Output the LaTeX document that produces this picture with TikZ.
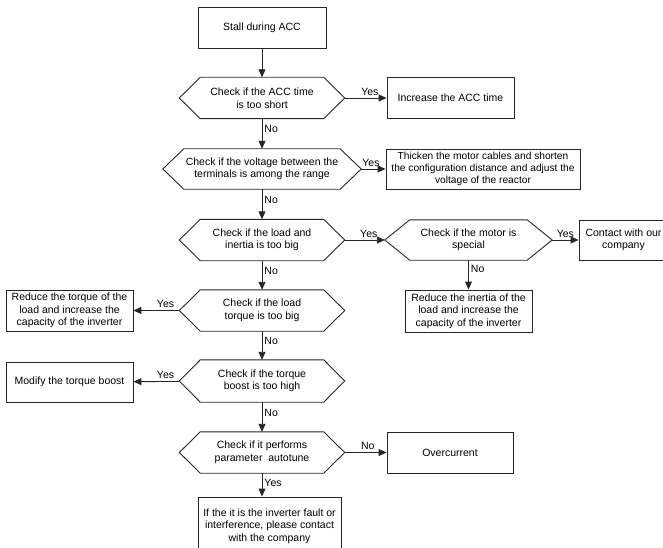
\documentclass[tikz,border=0pt]{standalone}
\usepackage{fontspec}
\setmainfont{Liberation Sans}
\usetikzlibrary{arrows.meta, positioning, calc}

\begin{document}
\begin{tikzpicture}[x=1pt, y=-1pt, >={Triangle[length=8pt, width=7pt]},
    font=\fontsize{10.5}{12.5}\selectfont,
    box/.style={draw=black!85, line width=0.9pt, inner sep=1pt, align=center, minimum height=41pt},
    check/.style={inner sep=1pt, align=center, minimum width=165pt, minimum height=41pt},
    link/.style={->, line width=0.9pt, draw=black!85},
    lbl/.style={inner sep=2pt}]
    % fixed frame of the picture
    \useasboundingbox (0,0) rectangle (663,548);

    % main column
    \node[box, minimum width=128pt] (start) at (262,27.5) {Stall during ACC};
    \node[check] (q1) at (262,98) {Check if the ACC time\\is too short};
    \node[check, minimum width=198pt, minimum height=40pt] (q2) at (262,169) {Check if the voltage between the\\terminals is among the range};
    \node[check] (q3) at (262,240) {Check if the load and\\inertia is too big};
    \node[check] (q5) at (262,310.5) {Check if the load\\torque is too big};
    \node[check, minimum height=42pt] (q6) at (262,381) {Check if the torque\\boost is too high};
    \node[check] (q7) at (262,452.5) {Check if it performs\\parameter\ \ autotune};
    \node[box, minimum width=143pt, minimum height=58pt] (final) at (269.5,526) {If the it is the inverter fault or\\interference, please contact\\with the company};

    % right side
    \node[box, minimum width=127pt] (incr) at (450.5,98) {Increase the ACC time};
    \node[box, minimum width=194pt, minimum height=40pt, font=\fontsize{10.2}{12}\selectfont] (thick) at (483,169) {Thicken the motor cables and shorten\\the configuration distance and adjust the\\voltage of the reactor};
    \node[check, minimum width=167pt, minimum height=40pt] (q4) at (468.5,240) {Check if the motor is\\special};
    \node[box, minimum width=89pt, minimum height=40pt] (contact) at (623.5,240) {Contact with our\\company};
    \node[box, minimum width=127pt, minimum height=42pt] (inertia) at (468.5,311) {Reduce the inertia of the\\load and increase the\\capacity of the inverter};
    \node[box, minimum width=126pt] (over) at (450,452.5) {Overcurrent};

    % left side
    \node[box, minimum width=127pt] (torque) at (69.5,310.5) {Reduce the torque of the\\load and increase the\\capacity of the inverter};
    \node[box, minimum width=127pt, minimum height=40pt] (modify) at (69.5,382) {Modify the torque boost};

    % hexagon outlines of the checks
    \foreach \n/\d in {q1/21, q2/21, q3/21, q4/25, q5/21, q6/21, q7/21}
        \draw[line width=0.9pt, black!85] (\n.west) -- ([xshift=\d]\n.north west) -- ([xshift=-\d]\n.north east)
            -- (\n.east) -- ([xshift=-\d]\n.south east) -- ([xshift=\d]\n.south west) -- cycle;

    % connectors
    \draw[link] (start) -- (q1);
    \draw[link] (q1) -- node[lbl, above, pos=0.6] {Yes} (incr);
    \draw[link] (q1) -- node[lbl, right, pos=0.35] {No} (q2);
    \draw[link] (q2) -- node[lbl, above, pos=0.4] {Yes} (thick);
    \draw[link] (q2) -- node[lbl, right, pos=0.35] {No} (q3);
    \draw[link] (q3) -- node[lbl, above, pos=0.6] {Yes} (q4);
    \draw[link] (q4) -- node[lbl, above, pos=0.5] {Yes} (contact);
    \draw[link] (q4) -- node[lbl, right, pos=0.3] {No} (inertia);
    \draw[link] (q3) -- node[lbl, right, pos=0.35] {No} (q5);
    \draw[link] (q5) -- node[lbl, above, pos=0.3] {Yes} (torque);
    \draw[link] (q5) -- node[lbl, right, pos=0.35] {No} (q6);
    \draw[link] (q6) -- node[lbl, above, pos=0.3] {Yes} (modify);
    \draw[link] (q6) -- node[lbl, right, pos=0.35] {No} (q7);
    \draw[link] (q7) -- node[lbl, above, pos=0.55] {No} (over);
    \draw[link] (q7.south) -- node[lbl, right, pos=0.4] {Yes} (q7.south |- final.north);
\end{tikzpicture}
\end{document}
